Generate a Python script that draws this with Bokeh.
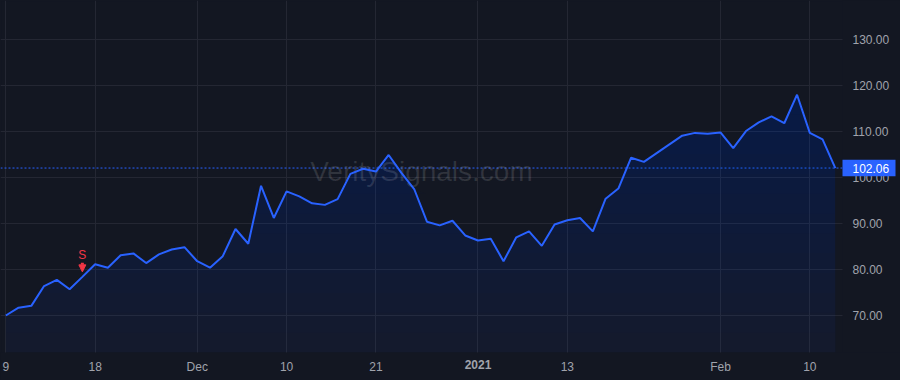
import numpy as np
from bokeh.plotting import figure
from bokeh.models import (FixedTicker, Span, Label, Arrow, NormalHead, Range1d,
                          NumeralTickFormatter, LinearAxis, BoxAnnotation)
from bokeh.embed import file_html
from bokeh.resources import INLINE

# ---- data (trading-day index, closing values) ----
values = [70.0, 71.7, 72.1, 76.4, 77.75, 75.7, 78.4, 81.15, 80.4, 83.1, 83.5, 81.4, 83.3, 84.35,
          84.85, 81.8, 80.4, 82.9, 88.8, 85.6, 98.2, 91.2, 97.0, 95.9, 94.4, 94.05, 95.3, 100.8,
          101.9, 101.3, 104.9, 101.0, 97.5, 90.4, 89.6, 90.6, 87.4, 86.3, 86.7, 81.8, 87.0,
          88.3, 85.15, 89.8, 90.7, 91.2, 88.3, 95.4, 97.6, 104.3, 103.4, 105.3, 107.2, 109.1,
          109.7, 109.5, 109.8, 106.4, 110.1, 112.0, 113.3, 111.8, 118.0, 109.7, 108.3, 102.06]
x_tick_positions = [0, 7, 15, 22, 29, 37, 44, 56, 63]
x_tick_labels = ["9", "18", "Dec", "10", "21", "2021", "13", "Feb", "10"]
bold_tick_labels = ["2021"]
y_ticks = [70, 80, 90, 100, 110, 120, 130]
signal_index = 6
signal_text = "S"
last_price = 102.06
watermark = "VeritySignals.com"

BG = "#131722"
GRID = "#242733"
TXT = "#A0A3AC"
BLUE = "#2962FF"
RED = "#F23645"
FONT = "Liberation Sans"

W, H = 900, 380
PLOT_R, PLOT_B = 842, 352          # right / bottom edge of the price pane (px)
X0, PX_X = -0.415, 12.762          # x range start, px per trading day
Y1, PX_Y = 138.48, 4.6             # y range top, px per unit

x_end = X0 + W / PX_X
y_start = Y1 - H / PX_Y
pane_x = X0 + PLOT_R / PX_X        # data x at pane right edge
pane_y = Y1 - PLOT_B / PX_Y        # data y at pane bottom edge

idx = np.arange(len(values))
vals = np.array(values)

p = figure(width=W, height=H, output_backend="svg", toolbar_location=None,
           x_range=Range1d(X0, x_end), y_range=Range1d(y_start, Y1),
           y_axis_location="right",
           min_border_left=0, min_border_top=0, min_border_right=0, min_border_bottom=0)
p.background_fill_color = BG
p.border_fill_color = BG
p.outline_line_color = BG
p.outline_line_width = 2
p.styles = {"background-color": BG}

# grids
p.xgrid.ticker = FixedTicker(ticks=x_tick_positions)
p.ygrid.ticker = FixedTicker(ticks=y_ticks)
for g in (p.xgrid, p.ygrid):
    g.grid_line_color = GRID
    g.grid_line_width = 1

# axes (placed inside the canvas at the pane edges)
xa = p.xaxis[0]
xa.ticker = FixedTicker(ticks=x_tick_positions)
xa.major_label_overrides = {t: ("" if l in bold_tick_labels else l)
                            for t, l in zip(x_tick_positions, x_tick_labels)}
xa.fixed_location = pane_y
ya = p.yaxis[0]
ya.ticker = FixedTicker(ticks=y_ticks)
ya.formatter = NumeralTickFormatter(format="0.00")
ya.fixed_location = pane_x
bold_ticks = [t for t, l in zip(x_tick_positions, x_tick_labels) if l in bold_tick_labels]
xb = LinearAxis(ticker=FixedTicker(ticks=bold_ticks),
                major_label_overrides={t: l for t, l in zip(x_tick_positions, x_tick_labels)
                                       if l in bold_tick_labels},
                fixed_location=pane_y, major_label_text_font_style="bold")
p.add_layout(xb, "below")
for ax in (xa, ya, xb):
    ax.axis_line_color = None
    ax.major_tick_line_color = None
    ax.minor_tick_line_color = None
    ax.major_tick_out = 0
    ax.major_tick_in = 0
    ax.minor_tick_out = 0
    ax.minor_tick_in = 0
    ax.major_label_text_color = TXT
    ax.major_label_text_font = FONT
    ax.major_label_text_font_size = "12px"
xa.major_label_standoff = 7
xb.major_label_standoff = 7
ya.major_label_standoff = 10

# last price dotted line (under the pane cover)
p.add_layout(Span(location=last_price, dimension="width", line_color=BLUE,
                  line_width=1, line_dash="2 2", level="underlay"))

# covers for the axis strips (hide grid lines outside the pane)
p.add_layout(BoxAnnotation(left=pane_x, fill_color=BG, fill_alpha=1, line_color=None, level="glyph"))
p.add_layout(BoxAnnotation(top=pane_y, fill_color=BG, fill_alpha=1, line_color=None, level="glyph"))

# gradient-ish area fill
base = np.full(len(vals), pane_y)
p.varea(x=idx, y1=base, y2=vals, fill_color=BLUE, fill_alpha=0.05)
for t in np.linspace(pane_y, vals.max(), 14)[1:-1]:
    p.varea(x=idx, y1=np.full(len(vals), t), y2=np.maximum(vals, t), fill_color=BLUE, fill_alpha=0.011)

# watermark (above fill, below line)
p.text(x=[X0 + (PLOT_R / 2) / PX_X], y=[Y1 - 171 / PX_Y], text=[watermark],
       text_align="center", text_baseline="middle", text_font={"value": FONT},
       text_font_size="28px", text_color="white", text_alpha=0.12)

# line
p.line(idx, vals, line_color=BLUE, line_width=2)

# last price label (box + text)
half_h = 8.2 / PX_Y
p.add_layout(BoxAnnotation(left=PLOT_R, left_units="screen", right=895, right_units="screen",
                           bottom=last_price - half_h, top=last_price + half_h,
                           fill_color=BLUE, fill_alpha=1, line_color=None))
p.add_layout(Label(x=PLOT_R + 10, x_units="screen", y=last_price, y_units="data",
                   text=f"{last_price:.2f}", text_color="white", text_font=FONT,
                   text_font_size="12px", text_baseline="middle", text_align="left"))

# sell signal
sv = vals[signal_index]
p.add_layout(Arrow(x_start=signal_index, x_end=signal_index,
                   y_start=sv + 14 / PX_Y, y_end=sv + 5 / PX_Y,
                   line_color=RED, line_width=3,
                   end=NormalHead(size=7, fill_color=RED, line_color=RED, line_width=1)))
p.text(x=[signal_index], y=[sv], text=[signal_text], text_color=RED, text_font_size="12px",
       text_font={"value": FONT}, text_align="center", text_baseline="middle", y_offset=-22)

html = file_html(p, INLINE)
html = html.replace("<head>", "<head><style>html,body{background:#131722;margin:0}</style>", 1)
open("out.html", "w").write(html)
